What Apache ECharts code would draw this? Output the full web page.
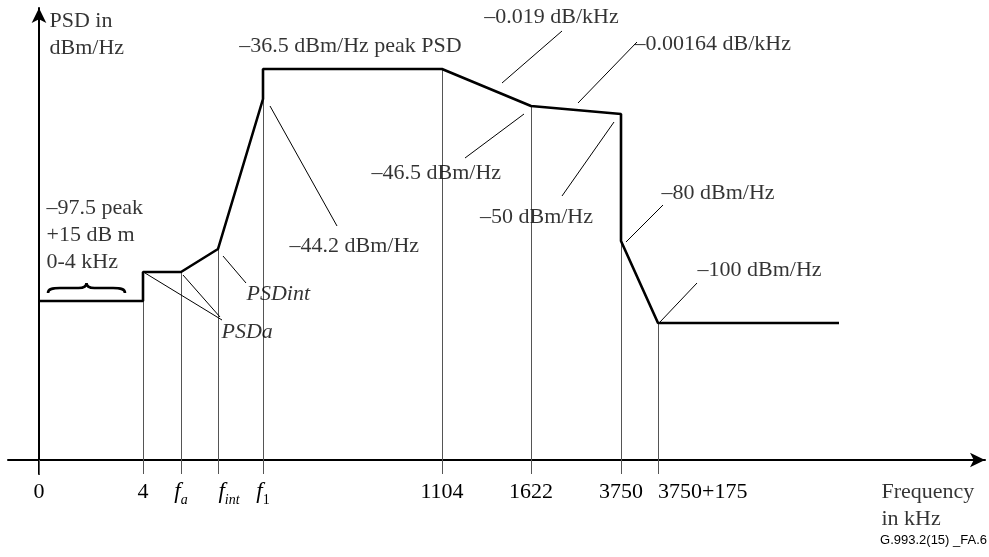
<!DOCTYPE html>
<html>
<head>
<meta charset="utf-8">
<script src="https://cdn.jsdelivr.net/npm/echarts@6/dist/echarts.min.js"></script>
<style>
  html, body { margin: 0; padding: 0; background: #fff; }
  #psd { width: 989px; height: 557px; }
</style>
</head>
<body>
<div id="psd"></div>
<script>
// schematic mask: x = position on the (non-linear) frequency axis, y = height above the axis
const curveX = [0, 104, 104, 142, 179, 224, 224, 403, 492, 582, 582, 619, 800];
const curveY = [159, 159, 188, 188, 211, 361, 391, 391, 354, 346, 219, 137, 137];

const tickPos = [0, 104, 142, 179, 224, 403, 492, 582, 619];
const tickText = ['0', '4', 'fa', 'fint', 'f1', '1104', '1622', '3750', '3750+175'];

// annotation texts and their anchor (in the same schematic units)
const noteText = [
  'PSD in\ndBm/Hz',
  '–36.5 dBm/Hz peak PSD',
  '–0.019 dB/kHz',
  '–0.00164 dB/kHz',
  '–46.5 dBm/Hz',
  '–50 dBm/Hz',
  '–44.2 dBm/Hz',
  '–80 dBm/Hz',
  '–100 dBm/Hz',
  '–97.5 peak\n+15 dB m\n0-4 kHz',
  '{it|PSDint}',
  '{it|PSDa}',
  'Frequency\nin kHz'
];
const noteX = [11, 312, 513, 596, 333, 498, 251, 623, 659, 8, 208, 183, 843];
const noteY = [425, 413, 442, 415, 286, 242, 213, 266, 189, 224, 165, 127, -46];
const noteAlign = ['left', 'center', 'center', 'left', 'left', 'center', 'left', 'left', 'left', 'left', 'left', 'left', 'left'];

// leader lines [x1, y1, x2, y2]
const leaders = [
  [231, 354, 298, 234],
  [184, 204, 207, 177],
  [106, 187, 183, 140],
  [144, 185, 181, 143],
  [426, 302, 485, 346],
  [523, 429, 463, 377],
  [598, 418, 539, 357],
  [575, 338, 523, 264],
  [624, 255, 587, 218],
  [658, 177, 621, 138]
];

// brace over 0-4 kHz: [xStart, xEnd, yBase]
const brace = [[9, 86, 167]];

const serif = '"Liberation Serif", "DejaVu Serif", serif';

// gray guide lines from the axis up to the mask at each tick
const guides = tickPos.filter(x => x > 0).map(x => {
  let top = 0;
  curveX.forEach((cx, i) => { if (cx === x) top = top === 0 ? curveY[i] : Math.min(top, curveY[i]); });
  return { coords: [[x, 0], [x, top]] };
});

const myChart = echarts.init(document.getElementById('psd'));

const option = {
  animation: false,
  backgroundColor: '#fff',
  grid: { left: 8, right: 4, top: 8, bottom: 83 },
  xAxis: {
    type: 'value',
    min: -31,
    max: 946,
    splitLine: { show: false },
    axisLine: {
      onZero: true,
      symbol: ['none', 'arrow'],
      symbolSize: [11, 15],
      lineStyle: { color: '#000', width: 2 }
    },
    axisTick: {
      show: true,
      customValues: tickPos,
      length: 14,
      lineStyle: { color: '#555', width: 1 }
    },
    axisLabel: {
      customValues: tickPos,
      hideOverlap: false,
      showMinLabel: true,
      showMaxLabel: true,
      alignMaxLabel: 'left',
      margin: 3,
      color: '#000',
      fontFamily: serif,
      fontSize: 22,
      formatter: (v) => {
        const t = tickText[tickPos.indexOf(v)];
        if (t === 'fa') return '{f|f}{s|a}';
        if (t === 'fint') return '{pi|}{f|f}{s|int}';
        if (t === 'f1') return '{f|f}{n|1}';
        return '{r|' + t + '}';
      },
      rich: {
        r: { fontFamily: serif, fontSize: 22, lineHeight: 30, verticalAlign: 'middle', color: '#000' },
        f: { fontFamily: serif, fontSize: 23, fontStyle: 'italic', lineHeight: 30, verticalAlign: 'middle', color: '#000' },
        s: { fontFamily: serif, fontSize: 14, fontStyle: 'italic', lineHeight: 30, verticalAlign: 'bottom', color: '#000' },
        n: { fontFamily: serif, fontSize: 14, lineHeight: 30, verticalAlign: 'bottom', color: '#000' },
        pi: { width: 22 }
      }
    }
  },
  yAxis: {
    type: 'value',
    min: -14,
    max: 452,
    splitLine: { show: false },
    axisTick: { show: false },
    axisLabel: { show: false },
    axisLine: {
      onZero: true,
      symbol: ['none', 'arrow'],
      symbolSize: [11, 15],
      lineStyle: { color: '#000', width: 2 }
    }
  },
  series: [
    {
      type: 'lines',
      coordinateSystem: 'cartesian2d',
      data: guides,
      lineStyle: { color: '#555', width: 1, opacity: 1 },
      z: 1
    },
    {
      type: 'lines',
      coordinateSystem: 'cartesian2d',
      data: leaders.map(l => ({ coords: [[l[0], l[1]], [l[2], l[3]]] })),
      lineStyle: { color: '#000', width: 1, opacity: 1 },
      z: 2
    },
    {
      type: 'line',
      data: curveX.map((x, i) => [x, curveY[i]]),
      symbol: 'none',
      lineStyle: { color: '#000', width: 2.6 },
      z: 5
    },
    {
      type: 'custom',
      data: brace,
      encode: { x: [0, 1], y: 2 },
      renderItem: (params, api) => {
        const a = api.coord([api.value(0), api.value(2)]);
        const b = api.coord([api.value(1), api.value(2)]);
        const yb = a[1], yt = a[1] - 5, yc = a[1] - 10;
        const x0 = a[0], x1 = b[0], xm = (x0 + x1) / 2;
        const d = 'M' + x0 + ' ' + yb +
          ' C' + x0 + ' ' + (yt + 1) + ' ' + (x0 + 4) + ' ' + yt + ' ' + (x0 + 12) + ' ' + yt +
          ' L' + (xm - 8) + ' ' + yt +
          ' C' + (xm - 3) + ' ' + yt + ' ' + xm + ' ' + (yt - 1) + ' ' + xm + ' ' + yc +
          ' C' + xm + ' ' + (yt - 1) + ' ' + (xm + 3) + ' ' + yt + ' ' + (xm + 8) + ' ' + yt +
          ' L' + (x1 - 12) + ' ' + yt +
          ' C' + (x1 - 4) + ' ' + yt + ' ' + x1 + ' ' + (yt + 1) + ' ' + x1 + ' ' + yb;
        return {
          type: 'path',
          shape: { pathData: d },
          style: { stroke: '#000', fill: 'none', lineWidth: 2.6 }
        };
      },
      z: 5
    },
    {
      type: 'scatter',
      symbolSize: 1,
      clip: false,
      itemStyle: { color: 'transparent' },
      data: noteText.map((t, i) => ({
        value: [noteX[i], noteY[i]],
        label: { formatter: t, align: noteAlign[i] }
      })),
      label: {
        show: true,
        position: [0, 0],
        verticalAlign: 'middle',
        color: '#000',
        fontFamily: serif,
        fontSize: 22,
        lineHeight: 27,
        rich: {
          it: { fontFamily: serif, fontSize: 22, fontStyle: 'italic', color: '#000' }
        }
      },
      z: 10
    }
  ],
  graphic: [
    {
      type: 'text',
      right: 2,
      top: 534,
      style: {
        text: 'G.993.2(15) _FA.6',
        fontFamily: '"Liberation Sans", Arial, sans-serif',
        fontSize: 13,
        fill: '#000'
      }
    }
  ]
};

myChart.setOption(option);
</script>
</body>
</html>
